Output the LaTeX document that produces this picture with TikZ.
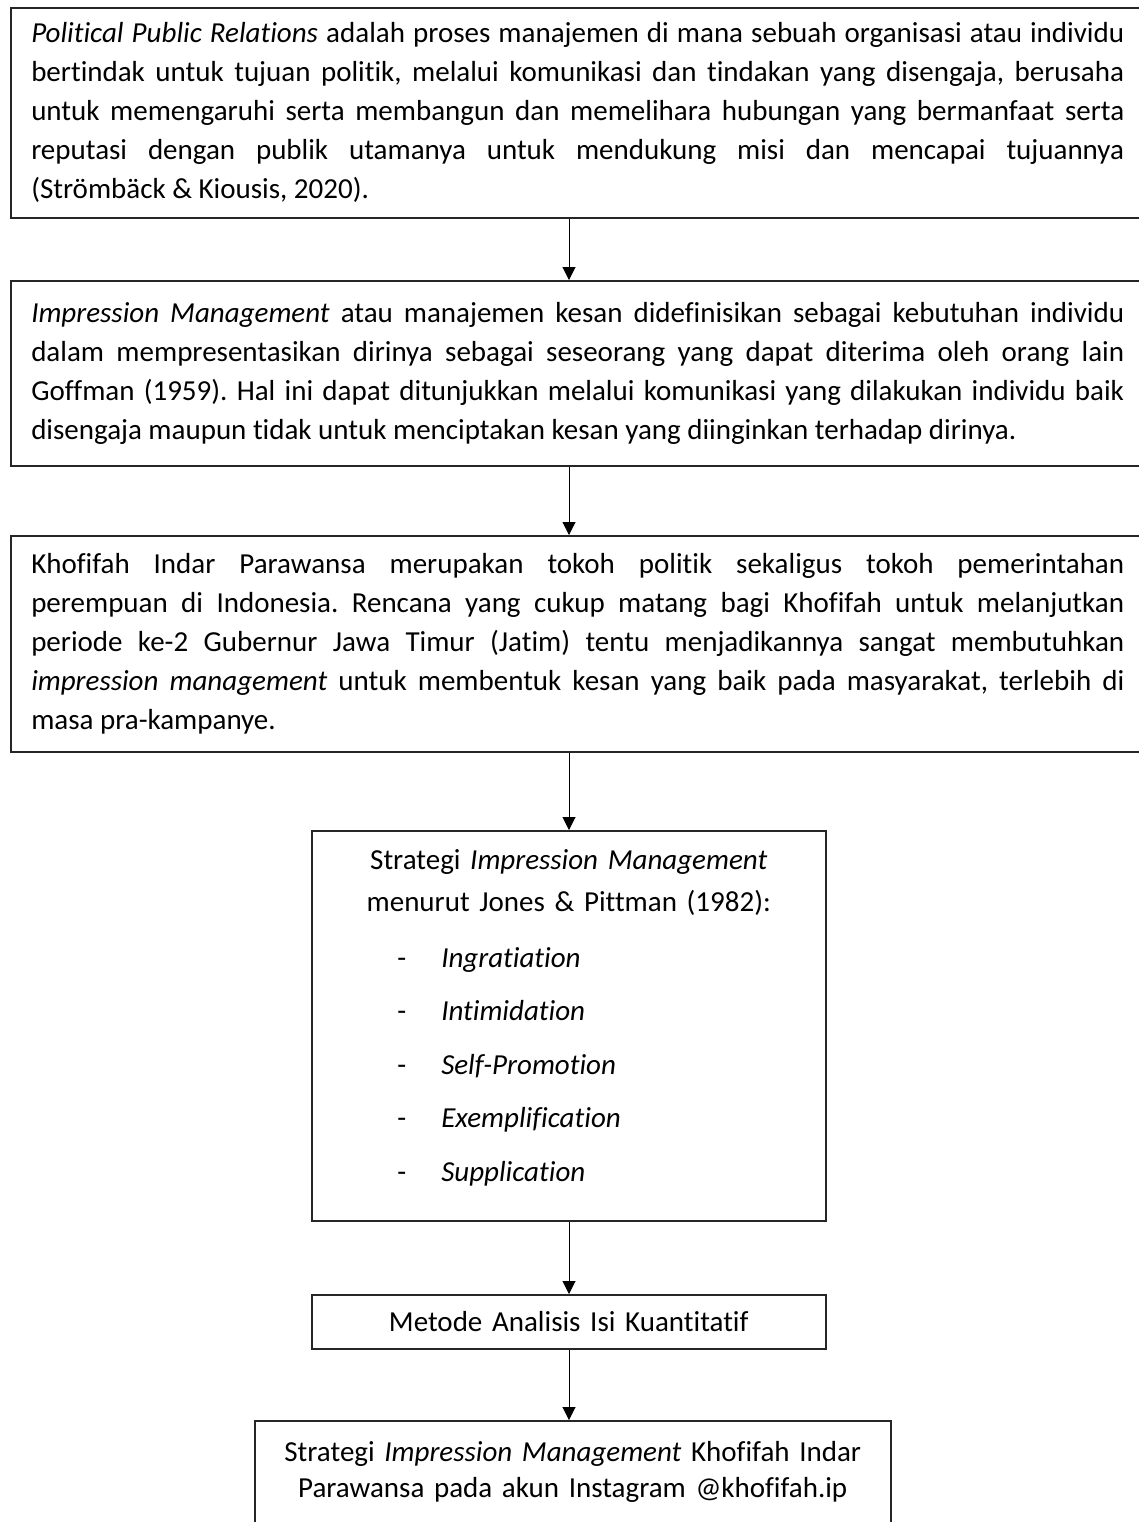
\documentclass[tikz,border=0pt]{standalone}
\usepackage{fontspec}
\setmainfont{Carlito}[Ligatures=NoCommon]
\usetikzlibrary{arrows.meta}
\tolerance=10000
\hyphenpenalty=10000
\frenchspacing
\newcommand{\dashitem}[1]{\makebox[236.5pt][l]{\hspace{32.5pt}\makebox[22pt][l]{-}\textit{#1}}}

\begin{document}
\begin{tikzpicture}[x=0.5pt, y=0.5pt,
    textbox/.style={draw=black!85, line width=0.75pt, inner xsep=10.25pt, inner ysep=0pt, font=\fontsize{14.5}{19.5}\selectfont},
    flow/.style={-{Triangle[length=6.5pt,width=6.5pt]}, line width=0.5pt}]
    \useasboundingbox (0,0) rectangle (1139,-1522);
    \coordinate (axis) at (569,0);

    % Wide boxes - top to bottom
    \node[textbox, anchor=north west, text width=546.5pt, minimum height=105pt, align=justify] (ppr) at (10,-7) {\textit{Political Public Relations} adalah proses manajemen di mana sebuah organisasi atau individu\linebreak bertindak untuk tujuan politik, melalui komunikasi dan tindakan yang disengaja, berusaha\linebreak untuk memengaruhi serta membangun dan memelihara hubungan yang bermanfaat serta\linebreak reputasi dengan publik utamanya untuk mendukung misi dan mencapai tujuannya\linebreak (Strömbäck \& Kiousis, 2020).};

    \node[textbox, anchor=north west, text width=546.5pt, minimum height=92.5pt, align=justify] (impr) at (10,-280) {\textit{Impression Management} atau manajemen kesan didefinisikan sebagai kebutuhan individu\linebreak dalam mempresentasikan dirinya sebagai seseorang yang dapat diterima oleh orang lain\linebreak Goffman (1959). Hal ini dapat ditunjukkan melalui komunikasi yang dilakukan individu baik\linebreak disengaja maupun tidak untuk menciptakan kesan yang diinginkan terhadap dirinya.};

    \node[textbox, anchor=north west, text width=546.5pt, minimum height=108pt, align=justify] (khof) at (10,-535) {Khofifah Indar Parawansa merupakan tokoh politik sekaligus tokoh pemerintahan\linebreak perempuan di Indonesia. Rencana yang cukup matang bagi Khofifah untuk melanjutkan\linebreak periode ke-2 Gubernur Jawa Timur (Jatim) tentu menjadikannya sangat membutuhkan\linebreak \textit{impression management} untuk membentuk kesan yang baik pada masyarakat, terlebih di\linebreak masa pra-kampanye.};

    % Narrow boxes
    \node[textbox, anchor=north west, text width=236.5pt, minimum height=195pt, text depth=166.5pt, align=center, font=\fontsize{14.5}{21}\selectfont] (strat) at (311,-830) {Strategi \textit{Impression Management}\\ menurut Jones \& Pittman (1982):\\[7pt] \dashitem{Ingratiation}\\[5.75pt] \dashitem{Intimidation}\\[5.75pt] \dashitem{Self-Promotion}\\[5.75pt] \dashitem{Exemplification}\\[5.75pt] \dashitem{Supplication}};

    \node[textbox, anchor=north west, text width=236.5pt, minimum height=27pt, align=center] (metode) at (311,-1294) {Metode Analisis Isi Kuantitatif};

    \node[textbox, anchor=north west, text width=297.5pt, minimum height=57.5pt, text depth=27pt, align=center, font=\fontsize{14.5}{18}\selectfont] (hasil) at (254,-1420) {Strategi \textit{Impression Management} Khofifah Indar\\ Parawansa pada akun Instagram @khofifah.ip};

    % Arrows
    \draw[flow] (ppr.south -| axis) -- (impr.north -| axis);
    \draw[flow] (impr.south -| axis) -- (khof.north -| axis);
    \draw[flow] (khof.south -| axis) -- (strat.north -| axis);
    \draw[flow] (strat.south -| axis) -- (metode.north -| axis);
    \draw[flow] (metode.south -| axis) -- (hasil.north -| axis);
\end{tikzpicture}
\end{document}
